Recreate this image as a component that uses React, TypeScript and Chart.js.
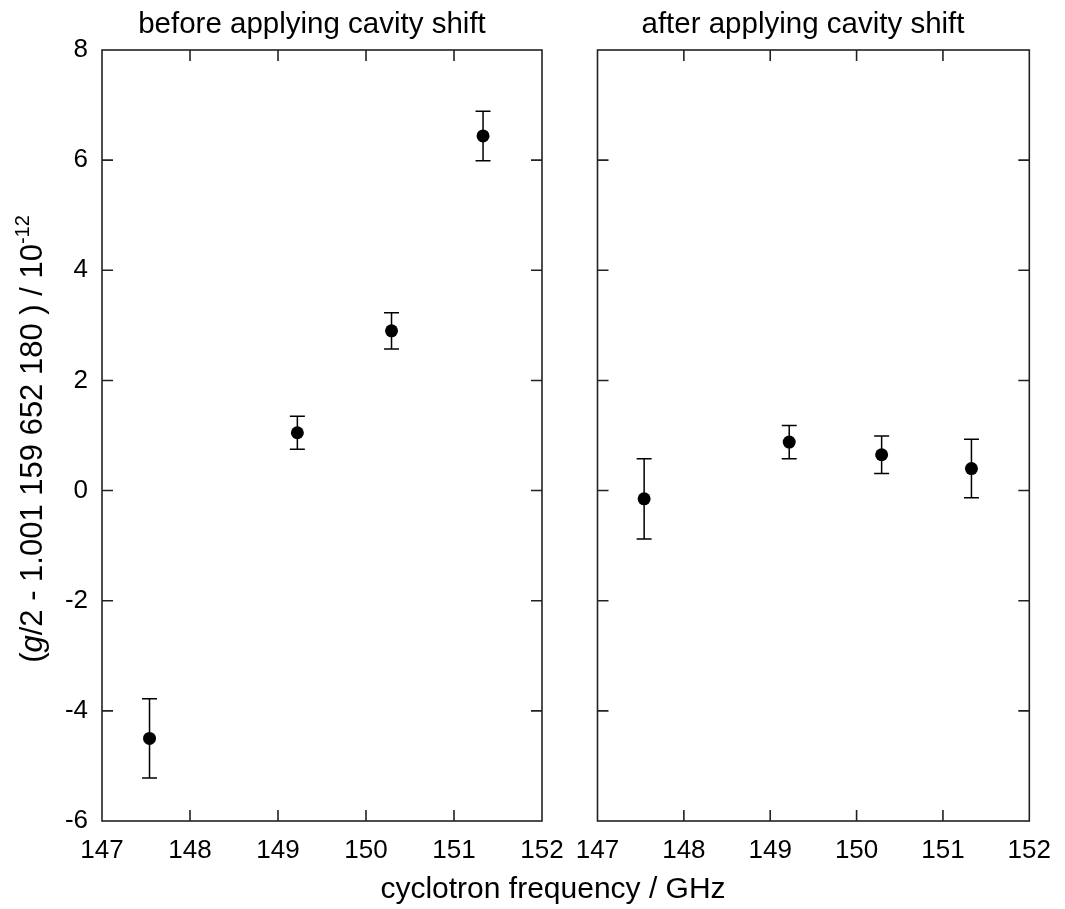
import React, { useEffect, useRef } from "react";
import { Chart, registerables } from "chart.js";

Chart.register(...registerables);

// ---- data ----
const frequencies = [147.54, 149.22, 150.29, 151.33];
const beforeValues = [-4.5, 1.05, 2.9, 6.44];
const beforeErrors = [0.72, 0.3, 0.33, 0.45];
const afterValues = [-0.15, 0.88, 0.65, 0.4];
const afterErrors = [0.73, 0.3, 0.34, 0.53];
const xMin = 147;
const xMax = 152;
const yMin = -6;
const yMax = 8;
const panelTitles = ["before applying cavity shift", "after applying cavity shift"];
const xAxisTitle = "cyclotron frequency / GHz";
const yLabelParts = ["(", "g", "/2 - 1.001 159 652 180 ) / 10", "-12"];

const FONT = '"Liberation Sans", Arial, Helvetica, sans-serif';
const W = 1065;
const H = 909;

type PanelOpts = {
  values: number[];
  errors: number[];
  title: string;
  titleCenterX: number;
  padLeft: number;
  padRight: number;
  showYLabels: boolean;
  drawAxisTitles: boolean;
};

function makeChart(canvas: HTMLCanvasElement, o: PanelOpts) {
  const points = frequencies.map((f, i) => ({ x: f, y: o.values[i] }));
  const decorPlugin = {
    id: "decor" + o.title.length,
    beforeDatasetsDraw(chart: any) {
      const ctx = chart.ctx as CanvasRenderingContext2D;
      const { left, right, top, bottom } = chart.chartArea;
      const xs = chart.scales.x;
      const ys = chart.scales.y;
      ctx.save();
      ctx.strokeStyle = "#222";
      ctx.lineWidth = 1.6;
      ctx.strokeRect(left, top, right - left, bottom - top);
      const tl = 11;
      ctx.beginPath();
      xs.ticks.forEach((t: any) => {
        if (t.value <= xMin || t.value >= xMax) return;
        const px = xs.getPixelForValue(t.value);
        ctx.moveTo(px, bottom);
        ctx.lineTo(px, bottom - tl);
        ctx.moveTo(px, top);
        ctx.lineTo(px, top + tl);
      });
      ys.ticks.forEach((t: any) => {
        if (t.value <= yMin || t.value >= yMax) return;
        const py = ys.getPixelForValue(t.value);
        ctx.moveTo(left, py);
        ctx.lineTo(left + tl, py);
        ctx.moveTo(right, py);
        ctx.lineTo(right - tl, py);
      });
      ctx.stroke();
      // error bars
      ctx.strokeStyle = "#000";
      ctx.lineWidth = 1.5;
      ctx.beginPath();
      frequencies.forEach((f, i) => {
        const px = xs.getPixelForValue(f);
        const y1 = ys.getPixelForValue(o.values[i] + o.errors[i]);
        const y2 = ys.getPixelForValue(o.values[i] - o.errors[i]);
        ctx.moveTo(px, y1);
        ctx.lineTo(px, y2);
        ctx.moveTo(px - 7.5, y1);
        ctx.lineTo(px + 7.5, y1);
        ctx.moveTo(px - 7.5, y2);
        ctx.lineTo(px + 7.5, y2);
      });
      ctx.stroke();
      // panel title
      ctx.fillStyle = "#000";
      ctx.font = `29.5px ${FONT}`;
      ctx.textAlign = "center";
      ctx.textBaseline = "alphabetic";
      ctx.fillText(o.title, o.titleCenterX, 33);
      if (o.drawAxisTitles) {
        ctx.font = `30px ${FONT}`;
        ctx.fillText(xAxisTitle, 553, 898);
        // y label, rotated, with italic g and superscript
        const normal = `31px ${FONT}`;
        const italic = `italic 31px ${FONT}`;
        const sup = `20px ${FONT}`;
        const fonts = [normal, italic, normal, sup];
        const widths = yLabelParts.map((p, i) => {
          ctx.font = fonts[i];
          return ctx.measureText(p).width;
        });
        const total = widths.reduce((a, b) => a + b, 0);
        ctx.translate(42, 439);
        ctx.rotate(-Math.PI / 2);
        ctx.textAlign = "left";
        let x = -total / 2;
        yLabelParts.forEach((p, i) => {
          ctx.font = fonts[i];
          ctx.fillText(p, x, i === 3 ? -13 : 0);
          x += widths[i];
        });
      }
      ctx.restore();
    },
  };

  return new Chart(canvas, {
    type: "scatter",
    data: {
      datasets: [
        {
          data: points,
          backgroundColor: "#000",
          borderColor: "#000",
          borderWidth: 0,
          pointRadius: 6.5,
          pointHoverRadius: 6.5,
          showLine: false,
        },
      ],
    },
    options: {
      responsive: false,
      animation: false,
      events: [],
      layout: { padding: { left: o.padLeft, right: o.padRight, top: 50, bottom: 0 } },
      plugins: { legend: { display: false }, tooltip: { enabled: false }, title: { display: false } },
      scales: {
        x: {
          type: "linear",
          min: xMin,
          max: xMax,
          grid: { display: false, drawTicks: false, tickLength: 0 },
          border: { display: false },
          ticks: {
            stepSize: 1,
            autoSkip: false,
            maxRotation: 0,
            padding: 14,
            color: "#000",
            font: { family: FONT, size: 26 },
          },
          afterFit: (s: any) => {
            s.height = 88;
          },
        },
        y: {
          type: "linear",
          min: yMin,
          max: yMax,
          display: o.showYLabels,
          grid: { display: false, drawTicks: false, tickLength: 0 },
          border: { display: false },
          ticks: {
            stepSize: 2,
            padding: 14,
            color: "#000",
            font: { family: FONT, size: 26 },
          },
          afterFit: (s: any) => {
            s.width = o.showYLabels ? 102 : 0;
          },
        },
      },
    } as any,
    plugins: [decorPlugin],
  });
}

export default function App() {
  const leftRef = useRef<HTMLCanvasElement>(null);
  const rightRef = useRef<HTMLCanvasElement>(null);

  useEffect(() => {
    const a = makeChart(leftRef.current!, {
      values: beforeValues,
      errors: beforeErrors,
      title: panelTitles[0],
      titleCenterX: 312,
      padLeft: 0,
      padRight: W - 542,
      showYLabels: true,
      drawAxisTitles: true,
    });
    const b = makeChart(rightRef.current!, {
      values: afterValues,
      errors: afterErrors,
      title: panelTitles[1],
      titleCenterX: 803,
      padLeft: 597.5,
      padRight: W - 1036,
      showYLabels: false,
      drawAxisTitles: false,
    });
    return () => {
      a.destroy();
      b.destroy();
    };
  }, []);

  const canvasStyle: React.CSSProperties = { position: "absolute", left: 0, top: 0 };
  return (
    <div style={{ position: "fixed", left: 0, top: 0, width: W, height: H, background: "#fff" }}>
      <canvas ref={leftRef} width={W} height={H} style={canvasStyle} />
      <canvas ref={rightRef} width={W} height={H} style={canvasStyle} />
    </div>
  );
}
